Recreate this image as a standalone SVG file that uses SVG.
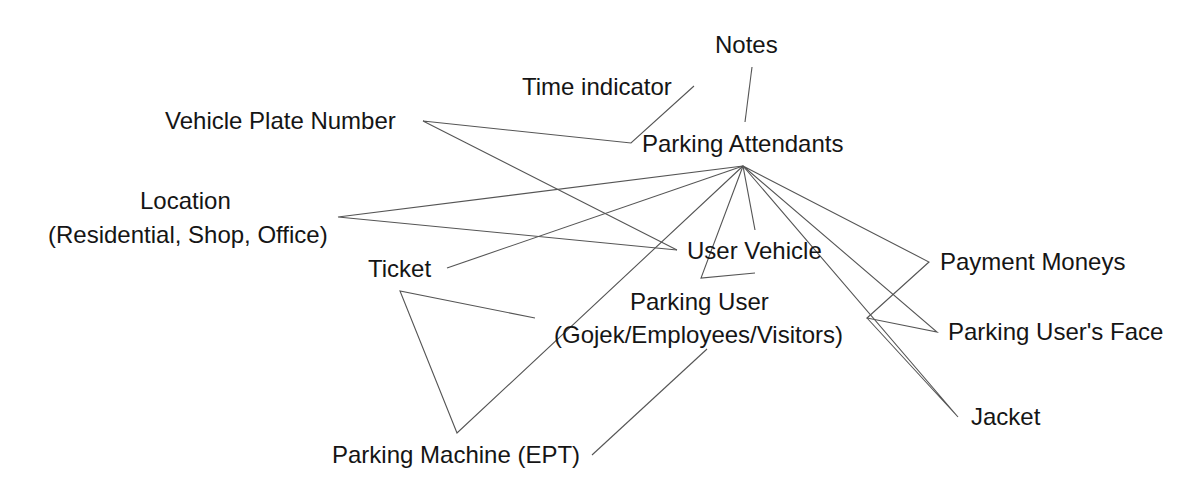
<svg xmlns="http://www.w3.org/2000/svg" width="1198" height="497" viewBox="0 0 1198 497">
<style>
.bg{fill:#ffffff}
.lbl{font-family:"Liberation Sans",Arial,sans-serif;font-size:24px;fill:#151515}
.c{fill:none;stroke:#555555;stroke-width:1.1}
</style>
<rect class="bg" x="0" y="0" width="1198" height="497"/>
<g id="connectors">
<polyline class="c" points="752,67 745,122"/>
<polyline class="c" points="694,86 631,143 423,121 677,250"/>
<polyline class="c" points="743,166 338,217 677,250"/>
<polyline class="c" points="447,268 743,166"/>
<polyline class="c" points="535,318 400,291 457,433 743,166"/>
<polyline class="c" points="592,455 707,349"/>
<polyline class="c" points="743,166 755,230"/>
<polyline class="c" points="743,166 701,278 755,273"/>
<polyline class="c" points="743,166 929,262 867,318 937,332 743,166"/>
<polyline class="c" points="867,318 958,417 743,166"/>
</g>
<g id="notes"><text class="lbl" x="715" y="53">Notes</text></g>
<g id="time-indicator"><text class="lbl" x="522" y="95">Time indicator</text></g>
<g id="vehicle-plate-number"><text class="lbl" x="165" y="129">Vehicle Plate Number</text></g>
<g id="parking-attendants"><text class="lbl" x="642" y="152">Parking Attendants</text></g>
<g id="location"><text class="lbl" x="140" y="209">Location</text><text class="lbl" x="48" y="243">(Residential, Shop, Office)</text></g>
<g id="ticket"><text class="lbl" x="368" y="277">Ticket</text></g>
<g id="user-vehicle"><text class="lbl" x="687" y="259">User Vehicle</text></g>
<g id="parking-user"><text class="lbl" x="630" y="310">Parking User</text><text class="lbl" x="554" y="343">(Gojek/Employees/Visitors)</text></g>
<g id="payment-moneys"><text class="lbl" x="940" y="270">Payment Moneys</text></g>
<g id="parking-users-face"><text class="lbl" x="948" y="340">Parking User's Face</text></g>
<g id="jacket"><text class="lbl" x="971" y="425">Jacket</text></g>
<g id="parking-machine"><text class="lbl" x="332" y="463">Parking Machine (EPT)</text></g>
</svg>
